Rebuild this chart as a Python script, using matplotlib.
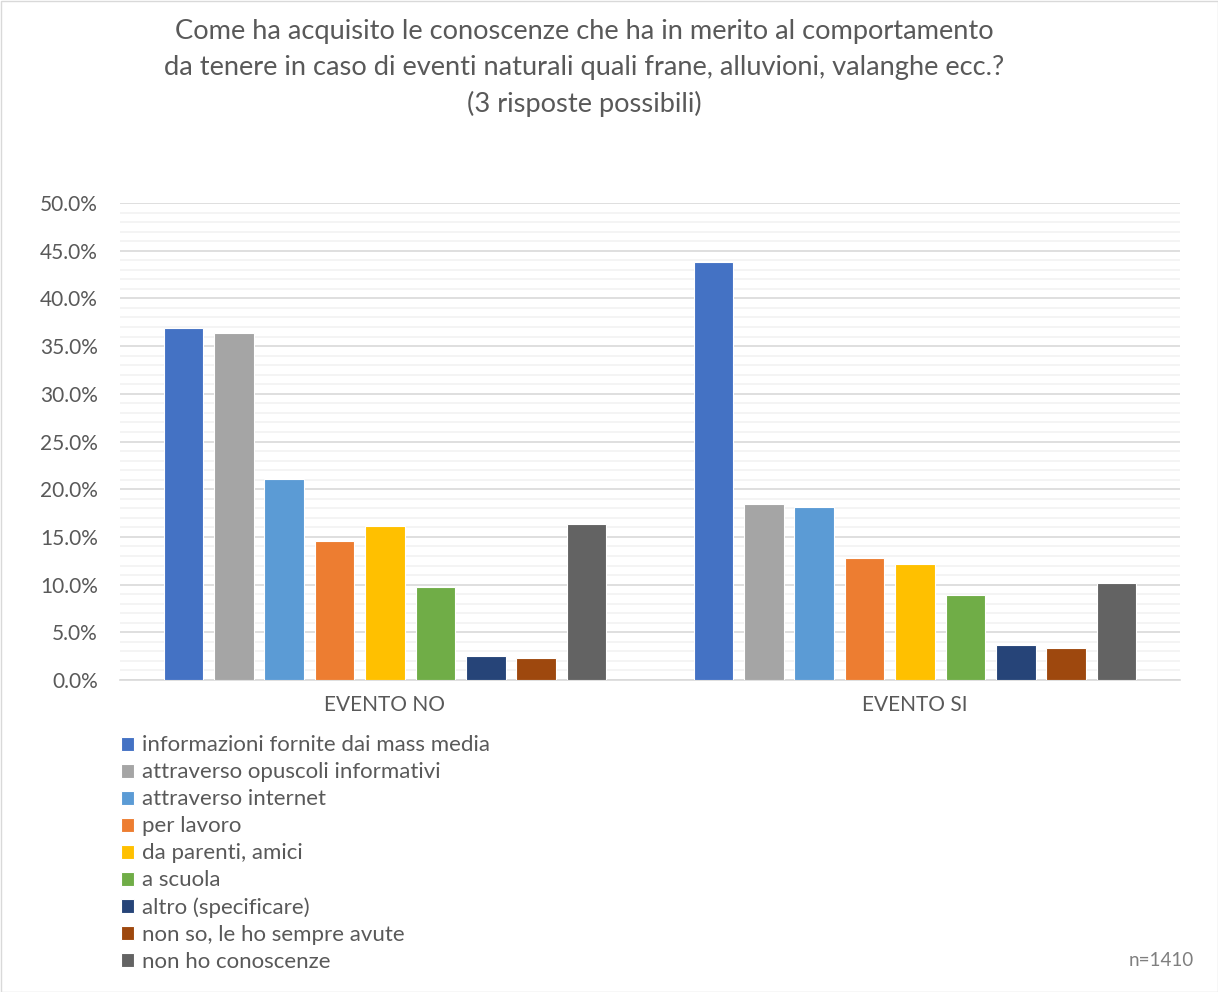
import matplotlib
matplotlib.use("Agg")
import matplotlib.pyplot as plt
import numpy as np
from matplotlib.ticker import MultipleLocator, FuncFormatter
from matplotlib.patches import Rectangle

categories = ["EVENTO NO", "EVENTO SI"]
series_labels = [
    "informazioni fornite dai mass media",
    "attraverso opuscoli informativi",
    "attraverso internet",
    "per lavoro",
    "da parenti, amici",
    "a scuola",
    "altro (specificare)",
    "non so, le ho sempre avute",
    "non ho conoscenze",
]
evento_no = [36.9, 36.4, 21.1, 14.6, 16.1, 9.8, 2.5, 2.3, 16.4]
evento_si = [43.8, 18.5, 18.1, 12.8, 12.2, 8.9, 3.7, 3.4, 10.2]
colors = ["#4472C4", "#A5A5A5", "#5B9BD5", "#ED7D31", "#FFC000",
          "#70AD47", "#264478", "#9E480E", "#636363"]
title_lines = ["Come ha acquisito le conoscenze che ha in merito al comportamento",
               "da tenere in caso di eventi naturali quali frane, alluvioni, valanghe ecc.?",
               "(3 risposte possibili)"]

plt.rcParams['font.family'] = ['Lato', 'DejaVu Sans']
txt = "#595959"

fig = plt.figure(figsize=(12.18, 9.92), dpi=100)
ax = fig.add_axes([120/1218, 1-680/992, 1060/1218, 477/992])

n = len(series_labels)
step = 0.0951
width = 0.0745
x = np.arange(len(categories))
handles = []
for i in range(n):
    vals = [evento_no[i], evento_si[i]]
    h = ax.bar(x + (i - (n-1)/2)*step, vals, width, color=colors[i],
               edgecolor="white", linewidth=0.8, zorder=3, label=series_labels[i])
    handles.append(h)

ax.set_xlim(-0.5, 1.5)
ax.set_ylim(0, 50)
ax.yaxis.set_major_locator(MultipleLocator(5))
ax.yaxis.set_minor_locator(MultipleLocator(1))
ax.yaxis.set_major_formatter(FuncFormatter(lambda v, p: f"{v:.1f}%"))
ax.grid(which="major", axis="y", color="#D9D9D9", linewidth=1.2, zorder=0)
ax.grid(which="minor", axis="y", color="#F2F2F2", linewidth=1.2, zorder=0)
ax.set_xticks(x)
ax.set_xticklabels(categories)
ax.tick_params(axis="both", which="both", length=0, labelsize=15, colors=txt)
ax.tick_params(axis="x", pad=11)
ax.tick_params(axis="y", pad=16)
for s in ["top", "right", "left"]:
    ax.spines[s].set_visible(False)
ax.spines["bottom"].set_color("#D9D9D9")
ax.spines["bottom"].set_linewidth(1.2)

for k, line in enumerate(title_lines):
    fig.text(584/1218, 1-(32 + 36*k)/992, line, ha="center", va="center",
             fontsize=19.6, color=txt)

leg = fig.legend(handles=handles, labels=series_labels, loc="upper left",
                 bbox_to_anchor=(117/1218, 1-731/992), frameon=False,
                 fontsize=16, handlelength=0.58, handleheight=0.58,
                 handletextpad=0.35, labelspacing=0.315, labelcolor=txt,
                 borderaxespad=0, borderpad=0.2)

fig.text(1194/1218, 1-960/992, "n=1410", ha="right", va="center",
         fontsize=13.5, color="#7F7F7F")

fig.patches.append(Rectangle((0.5/1218, 0.5/992), 1-1/1218, 1-1/992,
                             transform=fig.transFigure, fill=False,
                             edgecolor="#D9D9D9", linewidth=1))

fig.savefig("out.png", dpi=100)
